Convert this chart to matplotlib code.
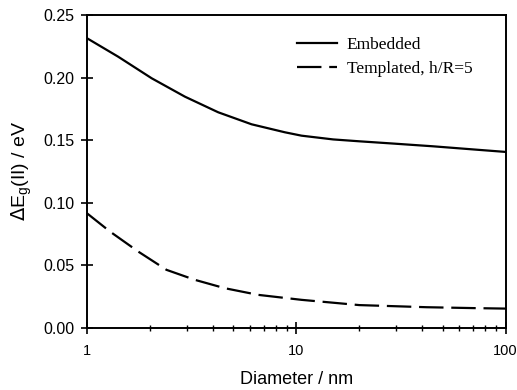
import numpy as np
import matplotlib
matplotlib.use("Agg")
import matplotlib.pyplot as plt
from matplotlib.ticker import LogLocator, FixedLocator, FixedFormatter, NullFormatter

# values
diam_emb = [1, 1.41, 2.04, 2.94, 4.24, 6.12, 8.83, 10.6, 15, 20, 29, 45, 70, 100]
gap_emb = [0.2315, 0.2167, 0.1994, 0.1847, 0.1722, 0.1626, 0.1562, 0.1535,
           0.1505, 0.149, 0.1472, 0.145, 0.1425, 0.1405]

diam_tmp = [1, 1.29, 1.76, 2.40, 3.28, 4.56, 6.57, 10.6, 20, 42, 70, 100]
gap_tmp = [0.0915, 0.0768, 0.0608, 0.0462, 0.0382, 0.0315, 0.0262, 0.0222,
           0.018, 0.0163, 0.0156, 0.0152]

sans = ['Liberation Sans', 'DejaVu Sans']
serif = ['Liberation Serif', 'DejaVu Serif']

fig = plt.figure(figsize=(5.17, 3.90), dpi=100)
ax = fig.add_axes([0.168, 0.160, 0.810, 0.8015])

ax.plot(diam_emb, gap_emb, color='black', lw=1.6, label='Embedded')
ax.plot(diam_tmp, gap_tmp, color='black', lw=1.6, dashes=(11, 3.5), label='Templated, h/R=5')

ax.set_xscale('log')
ax.set_xlim(1, 100)
ax.set_ylim(0, 0.25)

ax.xaxis.set_major_locator(FixedLocator([1, 10, 100]))
ax.xaxis.set_major_formatter(FixedFormatter(['1', '10', '100']))
ax.xaxis.set_minor_locator(LogLocator(base=10, subs=np.arange(2, 10)))
ax.xaxis.set_minor_formatter(NullFormatter())
ax.set_yticks([0, 0.05, 0.10, 0.15, 0.20, 0.25])
ax.set_yticklabels(['0.00', '0.05', '0.10', '0.15', '0.20', '0.25'])

ax.tick_params(which='major', direction='inout', length=8, width=1.2, labelsize=11.5, pad=5)
ax.tick_params(which='minor', direction='inout', length=5, width=1.0)
ax.tick_params(axis='x', which='major', pad=8, labelsize=10.5)
for lab in ax.get_xticklabels() + ax.get_yticklabels():
    lab.set_family(sans)

for sp in ax.spines.values():
    sp.set_linewidth(1.4)

ax.set_xlabel('Diameter / nm', fontsize=13, family=sans, labelpad=9)
ax.set_ylabel(r'$\Delta$E$_\mathregular{g}$(II) / eV', fontsize=14, family=sans, labelpad=7)

lg = ax.legend(loc='upper right', bbox_to_anchor=(0.958, 0.981), frameon=False,
               prop={'family': serif, 'size': 12.5}, handlelength=2.3, handletextpad=0.58,
               labelspacing=0.45)

fig.savefig('out.png', dpi=100)
